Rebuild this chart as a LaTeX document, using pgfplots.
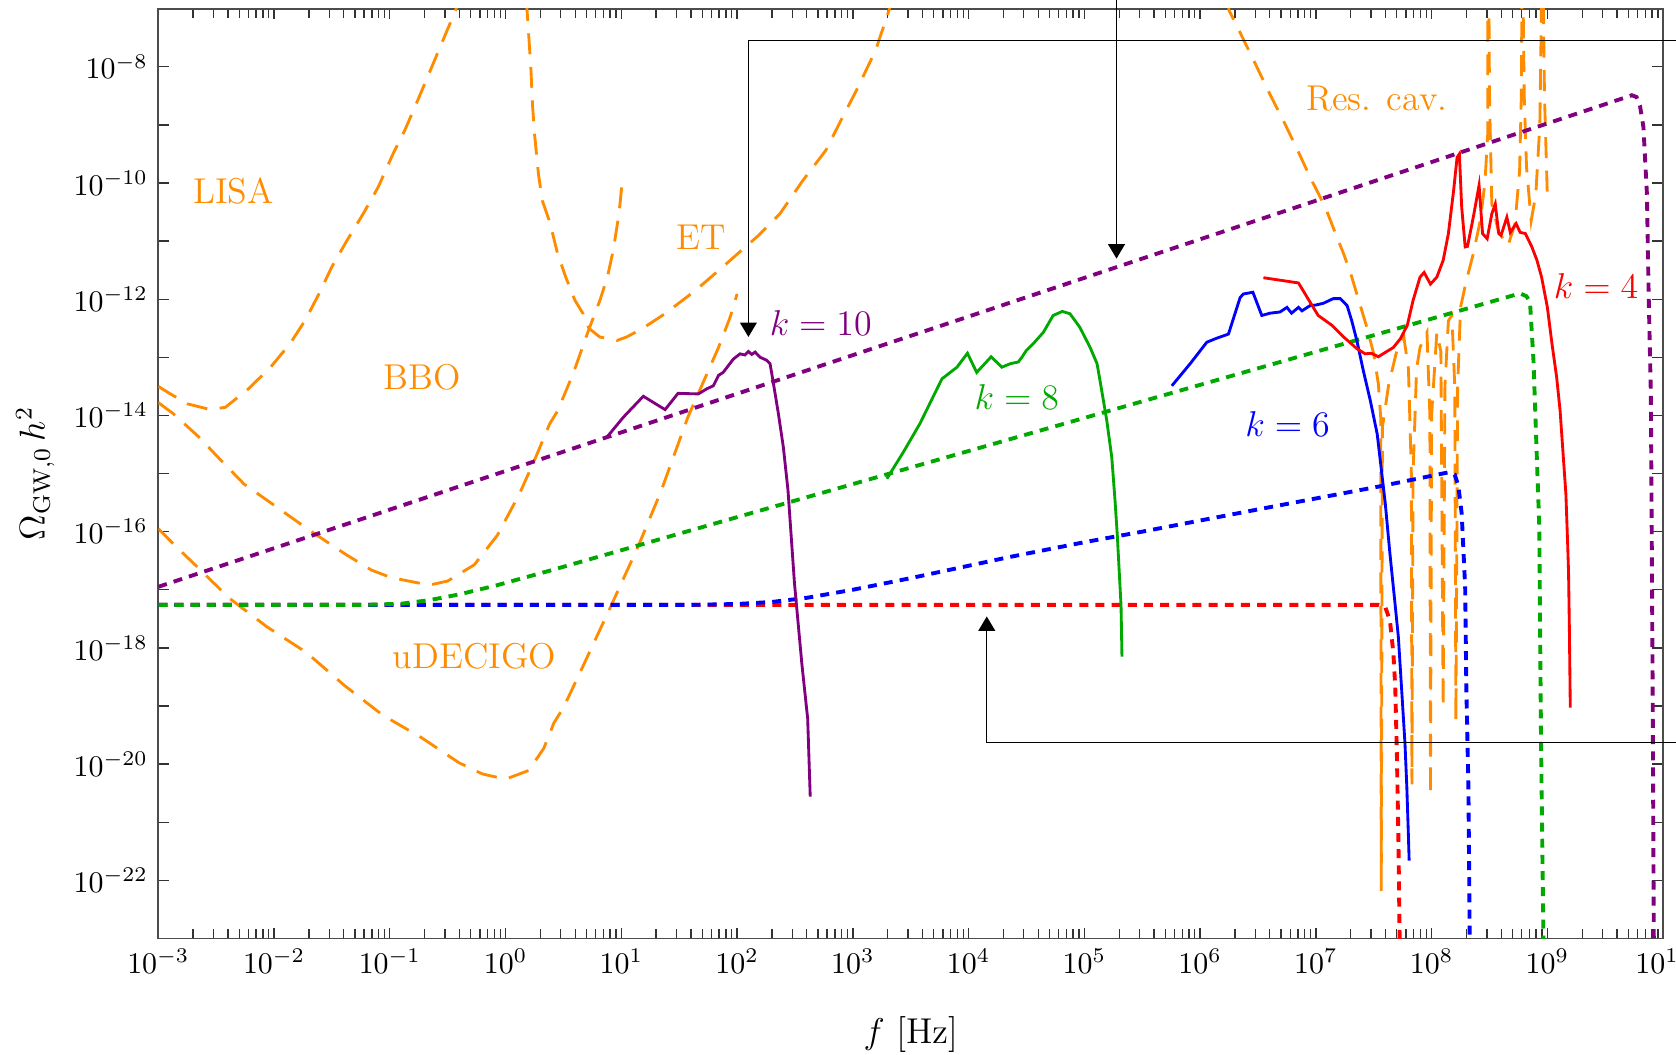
\documentclass[border=0pt]{standalone}
\usepackage{pgfplots}
\pgfplotsset{compat=1.18}
\usetikzlibrary{arrows.meta}
\definecolor{cor}{RGB}{255,140,0}
\definecolor{cpu}{RGB}{128,0,128}
\definecolor{cgr}{RGB}{0,168,0}
\definecolor{cbl}{RGB}{0,0,255}
\definecolor{crd}{RGB}{255,0,0}
\pgfkeys{/pgfplots/table/lg/.style={/pgfplots/table/x expr={10^(\thisrow{a})},/pgfplots/table/y expr={10^(\thisrow{b})},/pgfplots/table/row sep=\\}}
\tikzset{
 odash/.style={cor,line width=0.95pt,dash pattern=on 7pt off 4.2pt},
 sol/.style={line width=0.95pt},
 dotc/.style={line width=1.3pt,dash pattern=on 3pt off 2.4pt},
 ann/.style={black,line width=0.45pt},
 arr/.style={-{Triangle[length=4.8pt,width=5.6pt]}},
}
\begin{document}
\begin{tikzpicture}
\begin{axis}[
 scale only axis, width=502.9pt, height=310.7pt,
 xmode=log, ymode=log,
 xmin=1e-3, xmax=1e10, ymin=1e-23, ymax=1e-7,
 xtick={1e-3,1e-2,1e-1,1,1e1,1e2,1e3,1e4,1e5,1e6,1e7,1e8,1e9,1e10},
 ytick={1e-23,1e-22,1e-21,1e-20,1e-19,1e-18,1e-17,1e-16,1e-15,1e-14,1e-13,1e-12,1e-11,1e-10,1e-9,1e-8,1e-7},
 yticklabels={{},$10^{-22}$,{},$10^{-20}$,{},$10^{-18}$,{},$10^{-16}$,{},$10^{-14}$,{},$10^{-12}$,{},$10^{-10}$,{},$10^{-8}$,{}},
 yminorticks=false,
 clip mode=individual,
 axis line style={black!70,line width=0.6pt},
 major tick length=3.6pt, minor tick length=3.2pt,
 every tick/.style={black!80,line width=0.45pt},
 xlabel={$f\ [\mathrm{Hz}]$},
 ylabel={$\Omega_{\mathrm{GW},0}\, h^2$},
 label style={font=\large},
 xlabel style={at={(axis description cs:0.5,-0.1034)},anchor=center},
 ylabel style={at={(axis description cs:-0.0817,0.5)},anchor=center},
]
\coordinate (SW) at (rel axis cs:0,0);
\coordinate (NE) at (rel axis cs:1,1);
% ---------------- sensitivity curves
% LISA
\addplot[odash] table[lg] {a b\\
-3 -13.50\\ -2.92 -13.60\\ -2.75 -13.80\\ -2.55 -13.90\\ -2.42 -13.86\\ -2.22 -13.54\\ -2.03 -13.17\\ -1.86 -12.76\\ -1.73 -12.36\\ -1.61 -11.90\\ -1.50 -11.44\\ -1.37 -10.99\\ -1.23 -10.53\\ -1.10 -10.07\\ -0.97 -9.49\\ -0.87 -9.09\\ -0.77 -8.63\\ -0.66 -8.11\\ -0.54 -7.54\\ -0.43 -7.02\\ -0.40 -6.85\\
};
% BBO
\addplot[odash] table[lg] {a b\\
-3 -13.78\\ -2.87 -13.97\\ -2.65 -14.37\\ -2.46 -14.77\\ -2.26 -15.18\\ -2.06 -15.46\\ -1.72 -15.94\\ -1.39 -16.38\\ -1.16 -16.66\\ -0.99 -16.79\\ -0.66 -16.92\\ -0.50 -16.85\\ -0.27 -16.57\\ -0.07 -16.06\\ 0.12 -15.35\\ 0.25 -14.77\\ 0.38 -14.15\\ 0.45 -13.92\\ 0.584 -13.28\\ 0.716 -12.54\\ 0.815 -12.02\\ 0.88 -11.62\\ 0.93 -11.16\\ 0.98 -10.53\\ 1.013 -9.87\\
};
% ET
\addplot[odash] table[lg] {a b\\
0.18 -6.85\\ 0.218 -8.0\\ 0.234 -8.69\\ 0.25 -9.15\\ 0.284 -9.84\\ 0.317 -10.30\\ 0.383 -10.68\\ 0.45 -11.22\\ 0.52 -11.62\\ 0.60 -12.02\\ 0.67 -12.25\\ 0.72 -12.50\\ 0.814 -12.65\\ 0.963 -12.71\\ 1.046 -12.65\\ 1.178 -12.51\\ 1.377 -12.25\\ 1.64 -11.85\\ 1.873 -11.45\\ 2.038 -11.16\\ 2.187 -10.90\\ 2.37 -10.53\\ 2.567 -9.96\\ 2.766 -9.44\\ 2.898 -8.92\\ 3.03 -8.41\\ 3.196 -7.72\\ 3.294 -7.14\\ 3.34 -6.85\\
};
% uDECIGO
\addplot[odash] table[lg] {a b\\
-3 -15.95\\ -2.85 -16.25\\ -2.62 -16.69\\ -2.39 -17.14\\ -2.06 -17.64\\ -1.72 -18.08\\ -1.39 -18.65\\ -1.06 -19.16\\ -0.73 -19.54\\ -0.40 -19.98\\ -0.20 -20.17\\ 0.0 -20.26\\ 0.20 -20.11\\ 0.33 -19.73\\ 0.418 -19.29\\ 0.50 -19.03\\ 0.649 -18.40\\ 0.913 -17.27\\ 1.144 -16.26\\ 1.342 -15.31\\ 1.575 -14.03\\ 1.84 -12.83\\ 1.94 -12.31\\ 2.0 -11.91\\
};
% Resonant cavities
\addplot[odash] table[lg] {a b\\
6.24 -6.85\\ 6.25 -7.03\\ 6.35 -7.43\\ 6.475 -7.94\\ 6.60 -8.46\\ 6.73 -8.97\\ 6.855 -9.49\\ 6.95 -9.90\\ 7.08 -10.41\\ 7.17 -10.87\\ 7.24 -11.22\\ 7.30 -11.55\\ 7.354 -11.91\\ 7.44 -12.48\\ 7.50 -12.94\\ 7.54 -13.46\\ 7.56 -14.03\\ 7.565 -22.18\\ 7.575 -14.2\\ 7.63 -13.46\\ 7.70 -12.88\\ 7.76 -12.65\\ 7.80 -13.2\\ 7.825 -15.0\\ 7.83 -20.35\\ 7.84 -15.0\\ 7.87 -13.2\\ 7.90 -12.83\\ 7.96 -12.57\\ 7.985 -14.0\\ 7.99 -20.54\\ 8.0 -14.0\\ 8.045 -12.57\\ 8.08 -12.9\\ 8.10 -19.02\\ 8.115 -13.5\\ 8.145 -12.37\\ 8.175 -12.28\\ 8.20 -13.5\\ 8.21 -19.25\\ 8.225 -13.5\\ 8.25 -12.14\\ 8.30 -11.68\\ 8.36 -11.22\\ 8.42 -10.65\\ 8.46 -10.01\\ 8.485 -9.15\\ 8.485 -8.0\\ 8.485 -6.8\\ 8.495 -6.8\\ 8.50 -8.5\\ 8.52 -10.36\\ 8.58 -10.85\\ 8.66 -11.08\\ 8.72 -10.7\\ 8.76 -9.8\\ 8.775 -8.5\\ 8.78 -6.8\\ 8.79 -6.8\\ 8.80 -8.5\\ 8.82 -9.73\\ 8.86 -10.65\\ 8.90 -10.2\\ 8.935 -9.0\\ 8.95 -6.8\\ 8.965 -6.8\\ 8.975 -8.5\\ 9.0 -10.24\\
};
% ---------------- dotted curves
\addplot[crd,dotc] table[lg] {a b\\
-3 -17.26\\ 7.54 -17.26\\ 7.60 -17.30\\ 7.64 -17.53\\ 7.67 -18.10\\ 7.686 -18.68\\ 7.70 -19.83\\ 7.713 -21.26\\ 7.725 -23.2\\
};
\addplot[cbl,dotc] table[lg] {a b\\
-3 -17.26\\ 1.6 -17.26\\ 2.0 -17.245\\ 2.3 -17.21\\ 2.6 -17.14\\ 3.0 -17.00\\ 3.5 -16.80\\ 4.345 -16.44\\ 5.005 -16.18\\ 5.50 -16.00\\ 6.52 -15.61\\ 7.58 -15.21\\ 8.145 -14.98\\ 8.20 -15.02\\ 8.23 -15.2\\ 8.26 -15.69\\ 8.29 -16.96\\ 8.30 -18.68\\ 8.318 -20.40\\ 8.33 -23.2\\
};
\addplot[cgr,dotc] table[lg] {a b\\
-3 -17.26\\ -1.2 -17.26\\ -0.9 -17.24\\ -0.66 -17.18\\ -0.4 -17.08\\ -0.07 -16.92\\ 0.385 -16.67\\ 8.765 -11.90\\ 8.82 -11.95\\ 8.85 -12.05\\ 8.88 -13.05\\ 8.91 -14.78\\ 8.93 -15.9\\ 8.945 -19.54\\ 8.967 -23.2\\
};
\addplot[cpu,dotc] table[lg] {a b\\
-3 -16.95\\ 9.73 -8.49\\ 9.77 -8.52\\ 9.80 -8.67\\ 9.83 -9.04\\ 9.86 -10.19\\ 9.875 -11.91\\ 9.894 -13.63\\ 9.90 -15.5\\ 9.91 -18.9\\ 9.92 -23.2\\
};
% ---------------- solid spectra
\addplot[cpu,sol] table[lg] {a b\\
0.875 -14.375\\ 1.018 -14.03\\ 1.19 -13.67\\ 1.378 -13.90\\ 1.49 -13.62\\ 1.666 -13.63\\ 1.74 -13.54\\ 1.795 -13.49\\ 1.84 -13.31\\ 1.88 -13.26\\ 1.968 -13.03\\ 2.026 -12.94\\ 2.068 -12.96\\ 2.098 -12.90\\ 2.127 -12.95\\ 2.156 -12.91\\ 2.199 -13.0\\ 2.256 -13.05\\ 2.285 -13.11\\ 2.31 -13.40\\ 2.357 -13.97\\ 2.40 -14.55\\ 2.44 -15.29\\ 2.496 -16.89\\ 2.56 -18.28\\ 2.61 -19.22\\ 2.632 -20.56\\
};
\addplot[cgr,sol] table[lg] {a b\\
3.294 -15.09\\ 3.437 -14.63\\ 3.58 -14.14\\ 3.77 -13.37\\ 3.90 -13.17\\ 3.99 -12.93\\ 4.07 -13.26\\ 4.195 -12.99\\ 4.287 -13.17\\ 4.36 -13.11\\ 4.43 -13.08\\ 4.46 -13.0\\ 4.50 -12.88\\ 4.57 -12.74\\ 4.646 -12.57\\ 4.73 -12.28\\ 4.81 -12.21\\ 4.876 -12.25\\ 4.96 -12.48\\ 5.05 -12.83\\ 5.11 -13.11\\ 5.15 -13.57\\ 5.194 -14.09\\ 5.237 -14.72\\ 5.265 -15.46\\ 5.285 -16.07\\ 5.317 -17.27\\ 5.325 -18.15\\
};
\addplot[cbl,sol] table[lg] {a b\\
5.756 -13.49\\ 5.914 -13.11\\ 6.058 -12.74\\ 6.145 -12.67\\ 6.245 -12.60\\ 6.346 -11.97\\ 6.374 -11.91\\ 6.456 -11.88\\ 6.533 -12.28\\ 6.605 -12.24\\ 6.69 -12.22\\ 6.75 -12.14\\ 6.79 -12.24\\ 6.85 -12.14\\ 6.88 -12.20\\ 6.95 -12.11\\ 7.0 -12.10\\ 7.065 -12.07\\ 7.15 -11.99\\ 7.21 -11.99\\ 7.27 -12.11\\ 7.31 -12.37\\ 7.354 -12.71\\ 7.41 -13.23\\ 7.47 -13.74\\ 7.53 -14.32\\ 7.565 -14.92\\ 7.60 -15.52\\ 7.64 -16.38\\ 7.684 -17.24\\ 7.713 -17.82\\ 7.74 -18.68\\ 7.77 -19.65\\ 7.786 -20.40\\ 7.80 -21.26\\ 7.806 -21.66\\
};
\addplot[crd,sol] table[lg] {a b\\
6.547 -11.63\\ 6.85 -11.72\\ 6.95 -12.05\\ 7.02 -12.28\\ 7.14 -12.45\\ 7.24 -12.65\\ 7.354 -12.85\\ 7.426 -12.94\\ 7.48 -12.93\\ 7.54 -12.99\\ 7.58 -12.94\\ 7.67 -12.83\\ 7.73 -12.68\\ 7.79 -12.45\\ 7.84 -12.02\\ 7.90 -11.62\\ 7.935 -11.54\\ 7.99 -11.74\\ 8.045 -11.62\\ 8.10 -11.33\\ 8.145 -10.87\\ 8.19 -10.13\\ 8.22 -9.56\\ 8.24 -9.50\\ 8.26 -10.42\\ 8.29 -11.10\\ 8.31 -11.09\\ 8.36 -10.59\\ 8.41 -10.04\\ 8.44 -10.87\\ 8.48 -10.96\\ 8.52 -10.53\\ 8.55 -10.36\\ 8.58 -10.87\\ 8.60 -10.90\\ 8.65 -10.59\\ 8.68 -10.85\\ 8.73 -10.70\\ 8.765 -10.85\\ 8.81 -10.87\\ 8.866 -11.10\\ 8.91 -11.33\\ 8.95 -11.62\\ 9.0 -12.14\\ 9.04 -12.77\\ 9.08 -13.34\\ 9.11 -13.92\\ 9.14 -14.78\\ 9.16 -15.35\\ 9.175 -16.2\\ 9.183 -16.70\\ 9.19 -17.65\\ 9.198 -19.03\\
};
% ---------------- labels
\node[text=cor,font=\large] at (axis cs:4.47e-3,7.2e-11) {LISA};
\node[text=cor,font=\large] at (axis cs:0.189,4.47e-14) {BBO};
\node[text=cor,font=\large] at (axis cs:49,1.15e-11) {ET};
\node[text=cor,font=\large] at (axis cs:0.54,7.08e-19) {uDECIGO};
\node[text=cor,font=\large] at (axis cs:3.37e7,2.82e-9) {Res. cav.};
\node[text=cpu,font=\large] at (axis cs:528,3.89e-13) {$k=10$};
\node[text=cgr,font=\large] at (axis cs:2.61e4,2.04e-14) {$k=8$};
\node[text=cbl,font=\large] at (axis cs:5.69e6,7.24e-15) {$k=6$};
\node[text=crd,font=\large] at (axis cs:2.63e9,1.66e-12) {$k=4$};
% ---------------- annotation arrows
\draw[ann,arr] (axis cs:3.2e10,2.84e-8) -- (axis cs:125.3,2.84e-8) -- (axis cs:125.3,2.24e-13);
\draw[ann,arr] (axis cs:1.897e5,3.2e-7) -- (axis cs:1.897e5,5.0e-12);
\draw[ann,arr] (axis cs:3.2e10,2.34e-20) -- (axis cs:1.436e4,2.34e-20) -- (axis cs:1.436e4,3.47e-18);
\end{axis}
\pgfresetboundingbox
\path[use as bounding box] ([xshift=-52.9pt,yshift=-38.9pt]SW) rectangle ([xshift=4.3pt,yshift=2.9pt]NE);
\end{tikzpicture}
\end{document}
